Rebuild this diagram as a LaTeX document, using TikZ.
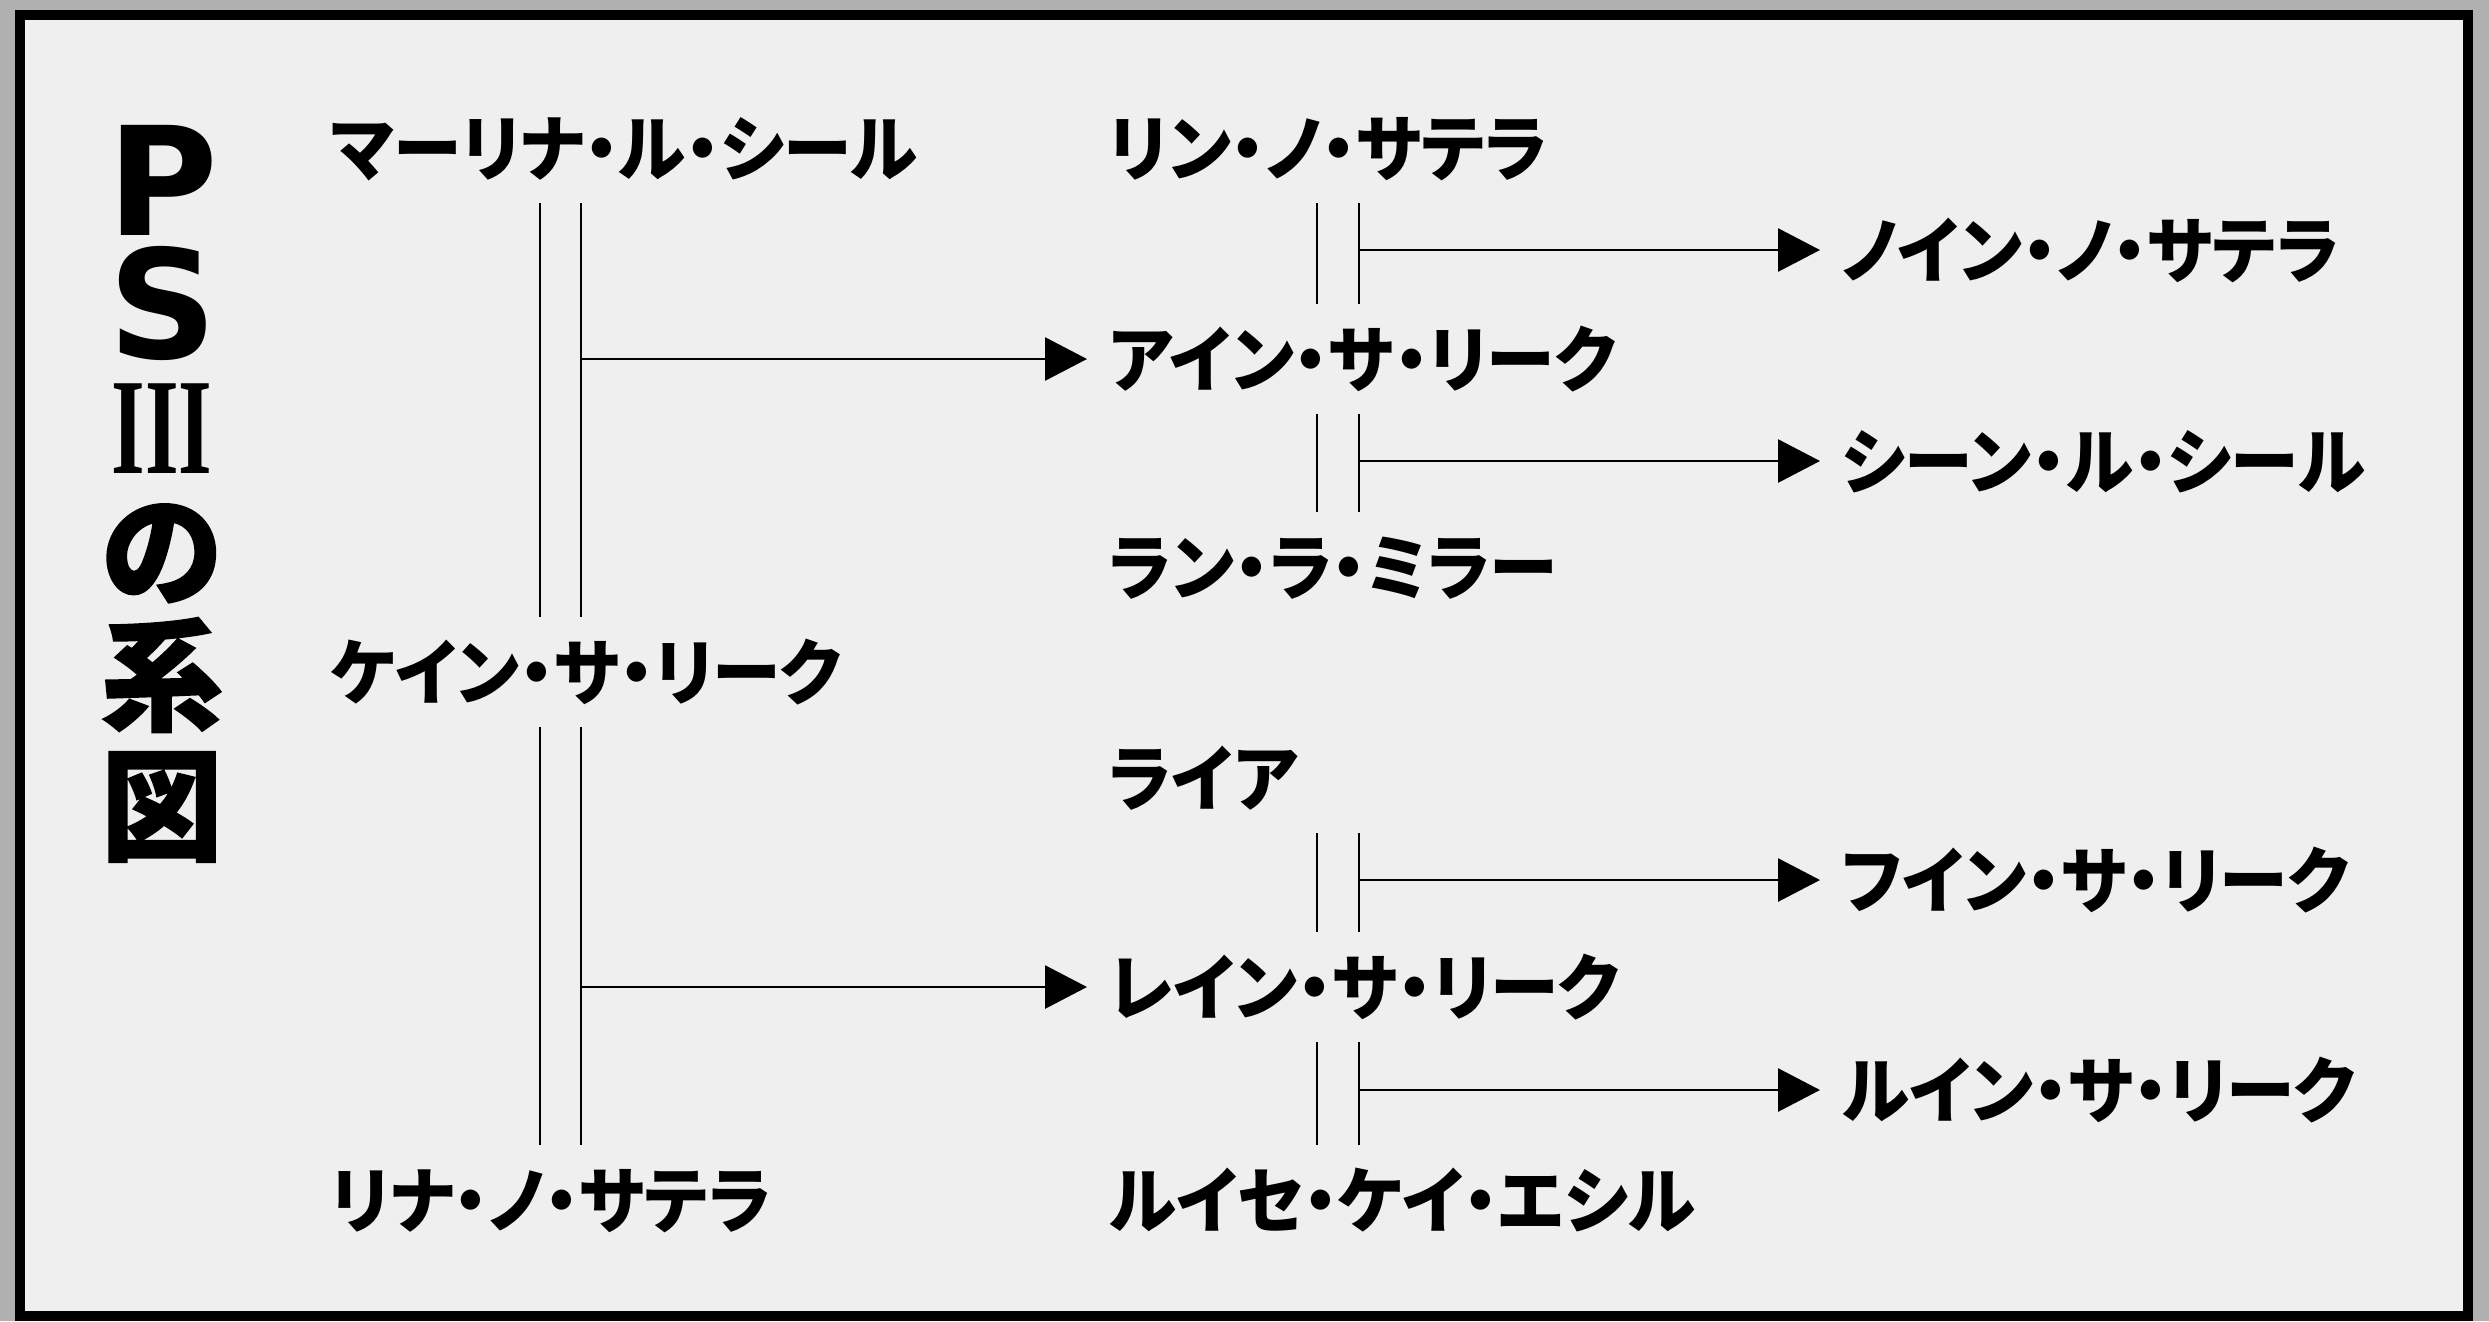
\documentclass[tikz,border=0pt]{standalone}
\usepackage{fontspec}
\setmainfont{Noto Sans CJK JP}[RawFeature=+palt, FakeStretch=0.955]
\newfontfamily\titlesans{DejaVu Sans}
\newfontfamily\titleserif{Liberation Serif}
\newfontfamily\titlecjk{Noto Sans CJK JP}[BoldFeatures={FakeBold=1.3}]
\usetikzlibrary{arrows.meta, positioning, calc}
\definecolor{paper}{HTML}{EFEFEF}
\definecolor{outside}{HTML}{B0B0B0}

\begin{document}
\begin{tikzpicture}[
        person/.style={anchor=west, inner sep=0pt, outer sep=0pt, outer ysep=0.18cm,
                       text height=0.64cm, text depth=0.10cm,
                       font=\bfseries\fontsize{20.5}{24}\selectfont},
        glyph/.style={anchor=base, inner sep=0pt, text height=0.9cm, text depth=0pt},
        wed/.style={line width=0.8pt},
        arr/.style={line width=0.8pt, -{Triangle[length=0.42cm, width=0.43cm]},
                    shorten >=0.22cm}
    ]
        % paper and frame
        \fill[outside] (0,0) rectangle (24.89,-13.21);
        \draw[line width=0.1cm, fill=paper] (0.20,-0.15) rectangle (24.68,-13.16);

        % title, set vertically
        \node[glyph, font=\titlesans\bfseries\fontsize{43}{43}\selectfont] (tP) at (1.63,-2.35) {P};
        \node[glyph, font=\titlesans\bfseries\fontsize{43}{43}\selectfont] (tS) at (1.63,-3.58) {S};
        \node[glyph, font=\titleserif\bfseries\fontsize{39}{39}\selectfont] (tIII) at (1.62,-4.73) {\scalebox{0.63}[1]{III}};
        \node[glyph, font=\titlecjk\bfseries\fontsize{34.7}{34.7}\selectfont] (tno)  at (1.62,-5.96) {の};
        \node[glyph, font=\titlecjk\bfseries\fontsize{34.7}{34.7}\selectfont] (tkei) at (1.62,-7.21) {系};
        \node[glyph, font=\titlecjk\bfseries\fontsize{34.7}{34.7}\selectfont] (tzu)  at (1.62,-8.51) {図};

        % first generation
        \node[person] (marina) at (3.31,-1.48)  {マーリナ・ル・シール};
        \node[person] (kain)   at (3.31,-6.72)  {ケイン・サ・リーク};
        \node[person] (rina)   at (3.31,-12.00) {リナ・ノ・サテラ};

        % second generation
        \node[person] (rin)    at (11.09,-1.48)  {リン・ノ・サテラ};
        \node[person] (ain)    at (11.09,-3.59)  {アイン・サ・リーク};
        \node[person] (ran)    at (11.09,-5.67)  {ラン・ラ・ミラー};
        \node[person] (raia)   at (11.09,-7.78)  {ライア};
        \node[person] (rein)   at (11.09,-9.87)  {レイン・サ・リーク};
        \node[person] (ruise)  at (11.09,-12.00) {ルイセ・ケイ・エシル};

        % third generation
        \node[person] (noin)   at (18.42,-2.50)  {ノイン・ノ・サテラ};
        \node[person] (shin)   at (18.42,-4.61)  {シーン・ル・シール};
        \node[person] (fuin)   at (18.42,-8.80)  {フイン・サ・リーク};
        \node[person] (ruin)   at (18.42,-10.90) {ルイン・サ・リーク};

        % x of the double marriage lines
        \coordinate (m1) at (5.40,0);
        \coordinate (m2) at (5.81,0);
        \coordinate (r1) at (13.17,0);
        \coordinate (r2) at (13.59,0);

        \foreach \x in {m1,m2} {
            \draw[wed] (marina.south -| \x) -- (kain.north -| \x);
            \draw[wed] (kain.south -| \x) -- (rina.north -| \x);
        }
        \foreach \x in {r1,r2} {
            \draw[wed] (rin.south -| \x) -- (ain.north -| \x);
            \draw[wed] (ain.south -| \x) -- (ran.north -| \x);
            \draw[wed] (raia.south -| \x) -- (rein.north -| \x);
            \draw[wed] (rein.south -| \x) -- (ruise.north -| \x);
        }

        % children
        \draw[arr] (ain.west -| m2)  -- (ain.west);
        \draw[arr] (rein.west -| m2) -- (rein.west);
        \draw[arr] (noin.west -| r2) -- (noin.west);
        \draw[arr] (shin.west -| r2) -- (shin.west);
        \draw[arr] (fuin.west -| r2) -- (fuin.west);
        \draw[arr] (ruin.west -| r2) -- (ruin.west);
    \end{tikzpicture}
\end{document}
